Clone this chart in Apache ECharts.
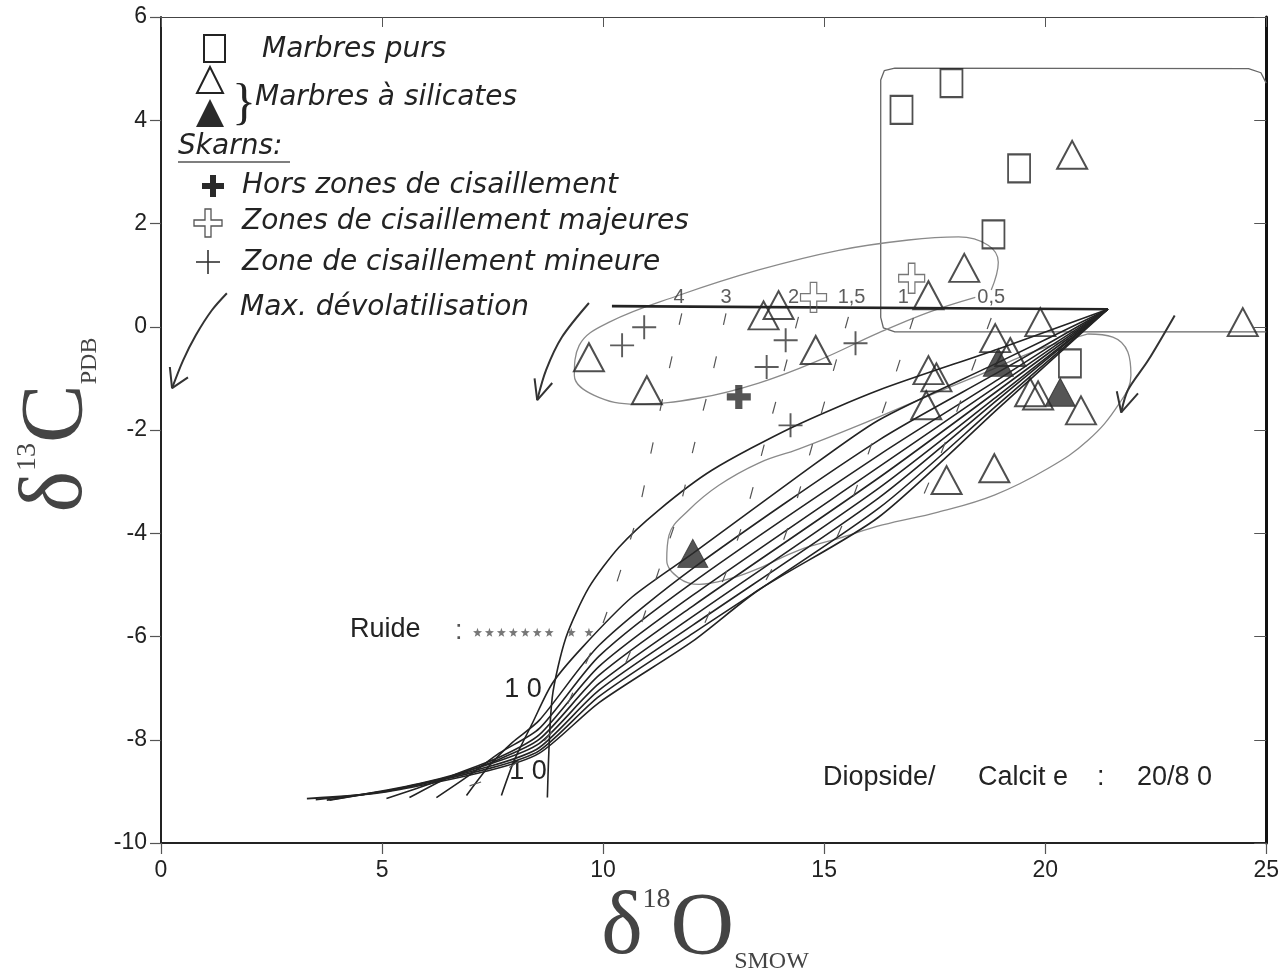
<!DOCTYPE html>
<html>
<head>
<meta charset="utf-8">
<script src="https://cdn.jsdelivr.net/npm/echarts@6/dist/echarts.min.js"></script>
<style>
  html, body { margin: 0; padding: 0; background: #fff; }
  #chart { width: 1282px; height: 973px; }
</style>
</head>
<body>
<div id="chart"></div>
<script>
// --- data (delta18O SMOW, delta13C PDB) ---
const marbresPurs = [[16.75, 4.20], [17.88, 4.72], [19.41, 3.07], [18.83, 1.79], [20.56, -0.71]]
const silicatesOuverts = [
    [9.68, -0.59], [10.99, -1.23], [13.63, 0.22], [13.97, 0.42], [14.81, -0.45],
    [17.36, 0.61], [18.17, 1.14], [20.61, 3.33], [19.89, 0.09], [24.47, 0.09],
    [18.87, -0.22], [19.21, -0.49], [17.36, -0.84], [17.54, -0.98], [17.31, -1.52],
    [19.66, -1.27], [19.84, -1.33], [20.81, -1.62], [17.77, -2.97], [18.85, -2.74]
]
const silicatesPleins = [[18.94, -0.69], [20.34, -1.27], [12.03, -4.39]]
const horsZones = [[13.07, -1.36]]
const zonesMajeures = [[14.76, 0.57], [16.98, 0.94]]
const zoneMineure = [[10.43, -0.36], [10.93, -0.01], [14.13, -0.26], [15.71, -0.32], [13.70, -0.78], [14.24, -1.91]]
const fluide = [[7.16, -5.92], [7.43, -5.92], [7.70, -5.92], [7.97, -5.92], [8.24, -5.92], [8.51, -5.92], [8.78, -5.92], [9.28, -5.92], [9.68, -5.92]]

// horizontal reference line and W/R labels
const ligneWR = [[10.20, 0.40], [21.42, 0.34]]
const wrLabels = ['4', '3', '2', '1,5', '1', '0,5']
const wrX = [11.72, 12.78, 14.31, 15.62, 16.79, 18.78]
const wrY = 0.57

// devolatilisation curves
const courbe1 = [[21.42, 0.34], [18.94, -0.43], [16.23, -1.23], [14.27, -1.95], [12.46, -2.78], [11.26, -3.55], [10.36, -4.27], [9.68, -5.05], [9.16, -6.02], [8.85, -7.18], [8.74, -9.12]]
const courbe2 = [[21.42, 0.34], [18.94, -0.69], [16.23, -1.81], [14.42, -2.89], [12.03, -4.39], [10.65, -5.24], [9.53, -6.21], [8.85, -6.91], [8.40, -7.68], [7.99, -8.40], [7.70, -9.08]]
const courbe3 = [[21.42, 0.34], [18.94, -0.88], [16.23, -2.20], [12.03, -4.68], [9.91, -6.17], [8.56, -7.62], [7.95, -8.05], [7.43, -8.50], [6.91, -9.08]]
const courbe4 = [[21.42, 0.34], [18.94, -1.02], [16.23, -2.49], [12.03, -4.95], [9.91, -6.38], [8.56, -7.78], [7.65, -8.26], [6.97, -8.69], [6.23, -9.12]]
const courbe5 = [[21.42, 0.34], [18.94, -1.13], [16.23, -2.72], [12.03, -5.20], [9.91, -6.58], [8.56, -7.90], [7.65, -8.34], [6.52, -8.72], [5.62, -9.12]]
const courbe6 = [[21.42, 0.34], [18.94, -1.23], [16.23, -2.93], [12.03, -5.41], [9.91, -6.75], [8.56, -7.99], [7.58, -8.40], [6.30, -8.79], [5.10, -9.14]]
const courbe7 = [[21.42, 0.34], [18.94, -1.33], [16.23, -3.13], [12.03, -5.61], [9.91, -6.91], [8.56, -8.07], [7.54, -8.44], [5.85, -8.85], [3.81, -9.17]]
const courbe8 = [[21.42, 0.34], [18.94, -1.40], [16.23, -3.32], [12.03, -5.78], [9.91, -7.04], [8.56, -8.15], [7.50, -8.50], [5.40, -8.94], [3.75, -9.17]]
const courbe9 = [[21.42, 0.34], [18.94, -1.50], [16.23, -3.52], [12.03, -5.94], [9.91, -7.16], [8.56, -8.21], [7.45, -8.55], [5.20, -8.98], [3.50, -9.16]]
const courbe10 = [[21.42, 0.34], [18.94, -1.58], [16.23, -3.69], [13.52, -5.10], [12.03, -6.09], [9.91, -7.28], [8.56, -8.26], [7.40, -8.60], [5.00, -9.02], [3.30, -9.14]]

// dashed W/R isolines
const iso4 = [[11.78, 0.26], [11.44, -1.03], [11.11, -2.33], [10.81, -3.55], [10.47, -4.52], [10.02, -5.69], [9.57, -6.60], [9.01, -7.62], [8.56, -8.11], [7.49, -8.73], [6.46, -9.02]]
const iso3 = [[12.78, 0.26], [12.44, -1.03], [12.05, -2.33], [11.72, -3.55], [11.26, -4.72], [10.81, -5.88], [10.25, -7.04]]
const iso2 = [[14.42, 0.19], [14.04, -1.03], [13.63, -2.33], [13.25, -3.55], [12.80, -4.72], [12.28, -5.78]]
const iso15 = [[15.55, 0.19], [15.15, -1.03], [14.72, -2.33], [14.31, -3.55], [13.86, -4.62], [13.41, -5.30]]
const iso1 = [[17.02, 0.17], [16.57, -1.03], [16.05, -2.33], [15.55, -3.55], [15.21, -4.23]]
const iso05 = [[18.78, 0.17], [18.26, -1.03], [17.70, -2.33], [17.25, -3.26]]

// grey outlines
const cadre = [[25, -0.10], [16.60, -0.10], [16.34, -0.02], [16.28, 0.18], [16.28, 4.78], [16.36, 4.96], [16.60, 5.01], [24.60, 5.00], [24.88, 4.92], [25, 4.72]]
const ellipseGauche = [[18.42, 0.57], [17.36, 0.28], [16.23, -0.12], [14.88, -0.65], [13.52, -1.09], [12.17, -1.38], [10.75, -1.50], [9.80, -1.33], [9.35, -0.94], [9.46, -0.36], [10.14, 0.09], [11.72, 0.61], [13.52, 1.10], [15.33, 1.48], [16.91, 1.68], [18.04, 1.74], [18.71, 1.58], [18.94, 1.25], [18.78, 0.71]]
const ellipseDroite = [[20.97, -0.14], [21.53, -0.20], [21.87, -0.49], [21.94, -0.94], [21.65, -1.52], [20.97, -2.20], [20.07, -2.74], [18.85, -3.26], [17.58, -3.59], [16.32, -3.84], [15.33, -4.10], [14.42, -4.33], [13.52, -4.68], [12.91, -4.87], [12.17, -4.99], [11.72, -4.87], [11.44, -4.52], [11.49, -4.04], [11.94, -3.55], [12.62, -3.07], [13.52, -2.64], [14.42, -2.37], [15.78, -1.91], [17.13, -1.42], [18.49, -0.94], [19.84, -0.45], [20.97, -0.14]]

// devolatilisation arrows: shaft then head
const fleche1 = [[1.49, 0.65], [1.15, 0.32], [0.79, -0.16], [0.50, -0.65], [0.25, -1.19]]
const pointe1 = [[0.20, -0.78], [0.25, -1.19], [0.61, -0.98]]
const fleche2 = [[9.68, 0.46], [9.07, -0.20], [8.71, -0.84], [8.51, -1.42]]
const pointe2 = [[8.45, -1.00], [8.51, -1.42], [8.85, -1.09]]
const fleche3 = [[22.93, 0.22], [22.33, -0.65], [21.87, -1.23], [21.72, -1.66]]
const pointe3 = [[21.62, -1.25], [21.72, -1.66], [22.10, -1.29]]

const xTicks = [0, 5, 10, 15, 20, 25]
const yTicks = [-10, -8, -6, -4, -2, 0, 2, 4, 6]

const ink = '#232323'
const plusBold = 'path://M7,0H13V7H20V13H13V20H7V13H0V7H7Z'
const plusThin = 'path://M9.2,0H10.8V9.2H20V10.8H10.8V20H9.2V10.8H0V9.2H9.2Z'
const plusOpen = 'path://M7.5,0H12.5V7.5H20V12.5H12.5V20H7.5V12.5H0V7.5H7.5Z'
const star = 'path://M5,0L6.2,3.4L10,3.6L7,5.9L8.1,9.5L5,7.4L1.9,9.5L3,5.9L0,3.6L3.8,3.4Z'

const legendFont = 'italic 28px "DejaVu Sans"'
const plainFont = '27px "Liberation Sans"'

function lineSeries(data, style, smooth) {
    return {
        type: 'line',
        data: data,
        symbol: 'none',
        smooth: smooth || false,
        silent: true,
        z: 2,
        lineStyle: style
    }
}

function markerSeries(data, symbol, size, itemStyle) {
    return {
        type: 'scatter',
        data: data,
        symbol: symbol,
        symbolSize: size,
        z: 6,
        itemStyle: itemStyle
    }
}

const chart = echarts.init(document.getElementById('chart'))

const fan = [courbe1, courbe2, courbe3, courbe4, courbe5, courbe6, courbe7, courbe8, courbe9, courbe10]
const isolines = [iso4, iso3, iso2, iso15, iso1, iso05]

const series = []
series.push(lineSeries(cadre, { color: '#666', width: 1.3 }))
series.push(lineSeries(ellipseGauche, { color: '#8a8a8a', width: 1.3 }, 0.4))
series.push(lineSeries(ellipseDroite, { color: '#8a8a8a', width: 1.3 }, 0.4))
fan.forEach(c => series.push(lineSeries(c, { color: ink, width: 1.6 }, 0.25)))
isolines.forEach(c => series.push(lineSeries(c, { color: '#555', width: 1.2, type: [12, 32] }, 0.3)))
series.push(lineSeries(ligneWR, { color: ink, width: 2.6 }))
;[fleche1, fleche2, fleche3].forEach(c => series.push(lineSeries(c, { color: '#333', width: 2 }, 0.3)))
;[pointe1, pointe2, pointe3].forEach(c => series.push(lineSeries(c, { color: '#333', width: 2 })))

series.push(markerSeries(marbresPurs, 'rect', [22, 28], { color: 'rgba(255,255,255,0)', borderColor: ink, borderWidth: 2 }))
series.push(markerSeries(silicatesOuverts, 'triangle', [30, 28], { color: 'rgba(255,255,255,0)', borderColor: ink, borderWidth: 2 }))
series.push(markerSeries(silicatesPleins, 'triangle', [30, 28], { color: '#2a2a2a', borderColor: '#2a2a2a', borderWidth: 1 }))
series.push(markerSeries(horsZones, plusBold, [24, 24], { color: '#2a2a2a' }))
series.push(markerSeries(zonesMajeures, plusOpen, [26, 30], { color: 'rgba(255,255,255,0)', borderColor: '#555', borderWidth: 1.3 }))
series.push(markerSeries(zoneMineure, plusThin, [24, 24], { color: '#333' }))
series.push(markerSeries(fluide, star, [9, 9], { color: '#555' }))
series.push({
    type: 'scatter',
    data: wrX.map((x, i) => ({ value: [x, wrY], name: wrLabels[i] })),
    symbolSize: 1,
    z: 7,
    itemStyle: { color: 'rgba(0,0,0,0)' },
    label: {
        show: true,
        position: 'inside',
        formatter: p => p.name,
        color: '#333',
        fontSize: 20,
        fontFamily: 'Liberation Sans'
    }
})

const axisCommon = {
    type: 'value',
    axisLine: { onZero: false, lineStyle: { color: ink, width: 2 } },
    splitLine: { show: false },
    axisTick: { length: 11, lineStyle: { color: '#555', width: 1.2 } }
}

chart.setOption({
    backgroundColor: '#fff',
    animation: false,
    grid: { left: 161, right: 14, top: 17, bottom: 130 },
    xAxis: [
        Object.assign({}, axisCommon, {
            min: xTicks[0], max: xTicks[xTicks.length - 1], interval: 5,
            position: 'bottom',
            axisLabel: { color: '#222', fontSize: 23, fontFamily: 'Liberation Sans', margin: 16 }
        }),
        Object.assign({}, axisCommon, {
            min: xTicks[0], max: xTicks[xTicks.length - 1], interval: 5,
            position: 'top',
            axisLine: { onZero: false, lineStyle: { color: '#444', width: 1.2 } },
            axisTick: { inside: true, length: 10, lineStyle: { color: '#555' } },
            axisLabel: { show: false }
        })
    ],
    yAxis: [
        Object.assign({}, axisCommon, {
            min: yTicks[0], max: yTicks[yTicks.length - 1], interval: 2,
            position: 'left',
            axisLabel: { color: '#222', fontSize: 23, fontFamily: 'Liberation Sans', margin: 14 }
        }),
        Object.assign({}, axisCommon, {
            min: yTicks[0], max: yTicks[yTicks.length - 1], interval: 2,
            position: 'right',
            axisLine: { onZero: false, lineStyle: { color: '#111', width: 3 } },
            axisTick: { inside: true, length: 12, lineStyle: { color: '#555' } },
            axisLabel: { show: false }
        })
    ],
    series: series,
    graphic: [
        // legend symbols
        { type: 'rect', shape: { x: 204, y: 35, width: 21, height: 27 }, style: { fill: 'none', stroke: ink, lineWidth: 2 } },
        { type: 'polygon', shape: { points: [[210, 67], [197, 93], [223, 93]] }, style: { fill: 'none', stroke: ink, lineWidth: 2 } },
        { type: 'polygon', shape: { points: [[210, 99], [196, 127], [224, 127]] }, style: { fill: '#2a2a2a' } },
        { type: 'text', x: 232, y: 105, style: { text: '}', font: '50px "Liberation Serif"', fill: ink, verticalAlign: 'middle' } },
        { type: 'rect', shape: { x: 202, y: 183, width: 22, height: 6 }, style: { fill: '#2a2a2a' } },
        { type: 'rect', shape: { x: 210, y: 175, width: 6, height: 22 }, style: { fill: '#2a2a2a' } },
        { type: 'polygon', shape: { points: [[205, 209], [211, 209], [211, 220], [222, 220], [222, 226], [211, 226], [211, 237], [205, 237], [205, 226], [194, 226], [194, 220], [205, 220]] }, style: { fill: 'none', stroke: '#555', lineWidth: 1.3 } },
        { type: 'line', shape: { x1: 196, y1: 262, x2: 220, y2: 262 }, style: { stroke: '#333', lineWidth: 1.6 } },
        { type: 'line', shape: { x1: 208, y1: 250, x2: 208, y2: 274 }, style: { stroke: '#333', lineWidth: 1.6 } },
        { type: 'line', shape: { x1: 178, y1: 162, x2: 290, y2: 162 }, style: { stroke: '#555', lineWidth: 1.4 } },
        // legend texts
        { type: 'text', x: 262, y: 50, style: { text: 'Marbres purs', font: legendFont, fill: ink, verticalAlign: 'middle' } },
        { type: 'text', x: 255, y: 98, style: { text: 'Marbres à silicates', font: legendFont, fill: ink, verticalAlign: 'middle' } },
        { type: 'text', x: 178, y: 147, style: { text: 'Skarns:', font: legendFont, fill: ink, verticalAlign: 'middle' } },
        { type: 'text', x: 242, y: 186, style: { text: 'Hors zones de cisaillement', font: legendFont, fill: ink, verticalAlign: 'middle' } },
        { type: 'text', x: 242, y: 222, style: { text: 'Zones de cisaillement majeures', font: legendFont, fill: ink, verticalAlign: 'middle' } },
        { type: 'text', x: 242, y: 263, style: { text: 'Zone de cisaillement mineure', font: legendFont, fill: ink, verticalAlign: 'middle' } },
        { type: 'text', x: 240, y: 308, style: { text: 'Max. dévolatilisation', font: legendFont, fill: ink, verticalAlign: 'middle' } },
        // annotations
        { type: 'text', x: 350, y: 630, style: { text: 'Ruide', font: plainFont, fill: ink, verticalAlign: 'middle' } },
        { type: 'text', x: 455, y: 632, style: { text: ':', font: plainFont, fill: '#555', verticalAlign: 'middle' } },
        { type: 'text', x: 523, y: 690, style: { text: '1 0', font: plainFont, fill: ink, align: 'center', verticalAlign: 'middle' } },
        { type: 'text', x: 528, y: 772, style: { text: '1 0', font: plainFont, fill: ink, align: 'center', verticalAlign: 'middle' } },
        { type: 'text', x: 823, y: 778, style: { text: 'Diopside/', font: plainFont, fill: ink, verticalAlign: 'middle' } },
        { type: 'text', x: 978, y: 778, style: { text: 'Calcit e', font: plainFont, fill: ink, verticalAlign: 'middle' } },
        { type: 'text', x: 1097, y: 778, style: { text: ':', font: plainFont, fill: ink, verticalAlign: 'middle' } },
        { type: 'text', x: 1137, y: 778, style: { text: '20/8 0', font: plainFont, fill: ink, verticalAlign: 'middle' } },
        // axis titles
        {
            type: 'text', x: 705, y: 930,
            style: {
                text: '{d|δ}{s|18}{o|O}{b|SMOW}',
                align: 'center', verticalAlign: 'middle', fill: '#444',
                rich: {
                    d: { font: '88px "Liberation Serif"', fill: '#444', verticalAlign: 'bottom' },
                    s: { font: '28px "Liberation Serif"', fill: '#444', verticalAlign: 'top' },
                    o: { font: '88px "Liberation Serif"', fill: '#444', verticalAlign: 'bottom' },
                    b: { font: '24px "Liberation Serif"', fill: '#444', verticalAlign: 'bottom' }
                }
            }
        },
        {
            type: 'text', x: 58, y: 425, rotation: Math.PI / 2,
            style: {
                text: '{d|δ}{s|13}{o|C}{b|PDB}',
                align: 'center', verticalAlign: 'middle', fill: '#444',
                rich: {
                    d: { font: '88px "Liberation Serif"', fill: '#444', verticalAlign: 'bottom' },
                    s: { font: '28px "Liberation Serif"', fill: '#444', verticalAlign: 'top' },
                    o: { font: '88px "Liberation Serif"', fill: '#444', verticalAlign: 'bottom' },
                    b: { font: '24px "Liberation Serif"', fill: '#444', verticalAlign: 'bottom' }
                }
            }
        }
    ]
})

window.addEventListener('resize', () => {
    chart && chart.resize()
})
</script>
</body>
</html>
